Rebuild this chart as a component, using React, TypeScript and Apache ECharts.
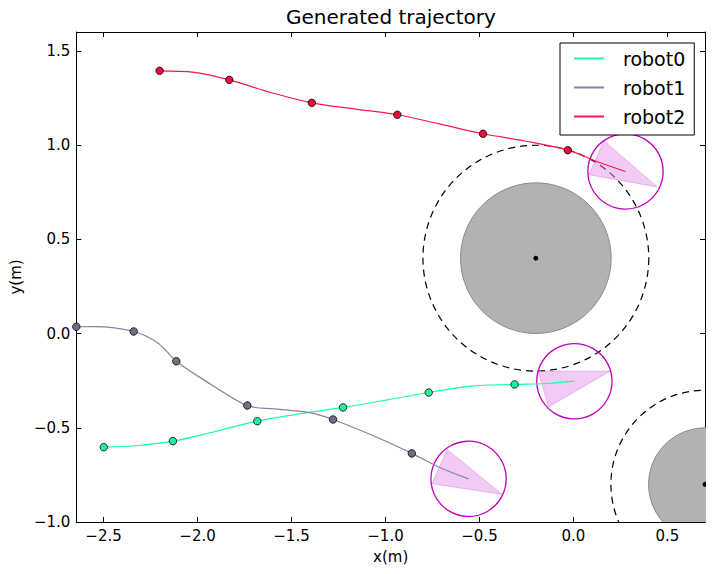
import React, { useEffect, useRef } from "react";
import * as echarts from "echarts";

// ---------- data ----------
const seriesNames = ["robot0", "robot1", "robot2"];
const lineColors = ["#19ff9e", "#8282a3", "#ff1450"];
const markerColors = ["#20f0a0", "#707085", "#e8103c"];

const robot0Path = [
  [-2.499, -0.603], [-2.317, -0.594], [-2.131, -0.571], [-1.91, -0.521], [-1.682, -0.465],
  [-1.415, -0.42], [-1.226, -0.392], [-0.99, -0.352], [-0.77, -0.313], [-0.549, -0.279],
  [-0.313, -0.27], [-0.142, -0.265], [0.005, -0.253],
];
const robot1Path = [
  [-2.645, 0.036], [-2.547, 0.037], [-2.34, 0.011], [-2.211, -0.05], [-2.113, -0.147],
  [-1.928, -0.27], [-1.735, -0.382], [-1.592, -0.4], [-1.397, -0.421], [-1.279, -0.456],
  [-1.061, -0.544], [-0.86, -0.636], [-0.708, -0.712], [-0.558, -0.771],
];
const robot2Path = [
  [-2.202, 1.394], [-2.017, 1.386], [-1.831, 1.346], [-1.61, 1.279], [-1.392, 1.224],
  [-1.168, 1.192], [-0.937, 1.161], [-0.708, 1.111], [-0.481, 1.06], [-0.266, 1.023],
  [-0.03, 0.973], [0.124, 0.913], [0.277, 0.86],
];

const robot0Markers = [
  [-2.499, -0.603], [-2.131, -0.571], [-1.682, -0.465], [-1.226, -0.392], [-0.77, -0.313], [-0.313, -0.27],
];
const robot1Markers = [
  [-2.645, 0.036], [-2.34, 0.011], [-2.113, -0.147], [-1.735, -0.382], [-1.279, -0.456], [-0.86, -0.636],
];
const robot2Markers = [
  [-2.202, 1.394], [-1.831, 1.346], [-1.392, 1.224], [-0.937, 1.161], [-0.481, 1.06], [-0.03, 0.973],
];

const obstacleCenters = [[-0.2, 0.4], [0.7, -0.8]];
const obstacleRadii = [0.4, 0.3];
const safetyRadii = [0.6, 0.5];

const robotPositions = [[0.005, -0.253], [-0.558, -0.771], [0.277, 0.86]];
const robotRadius = 0.2;
const robotCones = [
  [[-0.186, -0.2], [0.194, -0.2], [-0.133, -0.39]],
  [[-0.672, -0.615], [-0.752, -0.797], [-0.38, -0.853]],
  [[0.162, 1.023], [0.083, 0.843], [0.445, 0.778]],
];

const xTicks = [-2.5, -2.0, -1.5, -1.0, -0.5, 0.0, 0.5];
const yTicks = [-1.0, -0.5, 0.0, 0.5, 1.0, 1.5];
const xMin = -2.645;
const xMax = 0.7;
const yMin = -1.0;
const yMax = 1.6;

const fmt = (v: number) => (v < 0 ? "\u2212" + Math.abs(v).toFixed(1) : v.toFixed(1));

function circleSeries(items: number[][], style: any, z: number) {
  return {
    type: "custom",
    coordinateSystem: "cartesian2d",
    xAxisIndex: 0,
    yAxisIndex: 0,
    clip: true,
    silent: true,
    z,
    encode: { x: 0, y: 1 },
    data: items,
    renderItem: (params: any, api: any) => {
      const c = api.coord([api.value(0), api.value(1)]);
      const s = api.size([api.value(2), api.value(2)]);
      return {
        type: "circle",
        shape: { cx: c[0], cy: c[1], r: (s[0] + s[1]) / 2 },
        style,
      };
    },
  };
}

export default function App() {
  const ref = useRef<HTMLDivElement>(null);
  useEffect(() => {
    if (!ref.current) return;
    const chart = echarts.init(ref.current, null, { renderer: "svg" });
    const paths = [robot0Path, robot1Path, robot2Path];
    const markers = [robot0Markers, robot1Markers, robot2Markers];

    const axisCommon = {
      type: "value",
      splitLine: { show: false },
      axisLine: { show: true, onZero: false, lineStyle: { color: "#000", width: 1 } },
    };

    const obstacleItems = obstacleCenters.map((c, i) => [c[0], c[1], obstacleRadii[i]]);
    const safetyItems = obstacleCenters.map((c, i) => [c[0], c[1], safetyRadii[i]]);
    const centerItems = obstacleCenters.map((c) => [c[0], c[1], 0.013]);
    const robotItems = robotPositions.map((p) => [p[0], p[1], robotRadius]);
    const coneItems = robotCones.map((t) => [t[0][0], t[0][1], t[1][0], t[1][1], t[2][0], t[2][1]]);

    const option: any = {
      animation: false,
      textStyle: { fontFamily: "DejaVu Sans" },
      title: {
        text: "Generated trajectory",
        left: 286,
        top: 7,
        padding: 0,
        textStyle: { fontSize: 20, fontWeight: "normal", color: "#000", fontFamily: "DejaVu Sans" },
      },
      legend: {
        orient: "vertical",
        left: 560,
        top: 43,
        padding: [6, 9, 9, 14],
        itemGap: 10,
        itemWidth: 30,
        itemHeight: 2,
        icon: "rect",
        borderColor: "#000",
        borderWidth: 1,
        borderRadius: 0,
        backgroundColor: "#fff",
        data: seriesNames,
        textStyle: { fontSize: 19, color: "#000", padding: [0, 0, 0, 14], fontFamily: "DejaVu Sans" },
        z: 10,
      },
      grid: { left: 75, top: 32, width: 630, height: 490, show: false },
      xAxis: [
        {
          ...axisCommon,
          position: "bottom",
          min: xMin,
          max: xMax,
          name: "x(m)",
          nameLocation: "middle",
          nameGap: 27,
          nameTextStyle: { fontSize: 15, color: "#000" },
          axisTick: { show: true, inside: true, length: 5, customValues: xTicks, lineStyle: { color: "#000" } },
          axisLabel: { show: true, customValues: xTicks, formatter: fmt, margin: 6, fontSize: 15, color: "#000" },
        },
        {
          ...axisCommon,
          position: "top",
          min: xMin,
          max: xMax,
          axisTick: { show: true, inside: true, length: 5, customValues: xTicks, lineStyle: { color: "#000" } },
          axisLabel: { show: false },
        },
      ],
      yAxis: [
        {
          ...axisCommon,
          position: "left",
          min: yMin,
          max: yMax,
          name: "y(m)",
          nameLocation: "middle",
          nameGap: 51,
          nameRotate: 90,
          nameTextStyle: { fontSize: 15, color: "#000" },
          axisTick: { show: true, inside: true, length: 5, customValues: yTicks, lineStyle: { color: "#000" } },
          axisLabel: { show: true, customValues: yTicks, formatter: fmt, margin: 6, fontSize: 15, color: "#000" },
        },
        {
          ...axisCommon,
          position: "right",
          min: yMin,
          max: yMax,
          axisTick: { show: true, inside: true, length: 5, customValues: yTicks, lineStyle: { color: "#000" } },
          axisLabel: { show: false },
        },
      ],
      series: [
        circleSeries(obstacleItems, { fill: "#b2b2b2", stroke: "#8a8a8a", lineWidth: 1 }, 1),
        circleSeries(safetyItems, { fill: "none", stroke: "#000", lineWidth: 1.2, lineDash: [7, 5] }, 1),
        circleSeries(centerItems, { fill: "#000", stroke: "none" }, 1),
        {
          type: "custom",
          coordinateSystem: "cartesian2d",
          xAxisIndex: 0,
          yAxisIndex: 0,
          clip: true,
          silent: true,
          z: 2,
          encode: { x: [0, 2, 4], y: [1, 3, 5] },
          data: coneItems,
          renderItem: (params: any, api: any) => {
            const pts = [0, 1, 2].map((k) => api.coord([api.value(2 * k), api.value(2 * k + 1)]));
            return {
              type: "polygon",
              shape: { points: pts },
              style: { fill: "rgba(224,140,230,0.45)", stroke: "rgba(224,140,230,0.6)", lineWidth: 1 },
            };
          },
        },
        circleSeries(robotItems, { fill: "none", stroke: "#bf00bf", lineWidth: 1.3 }, 3),
        ...paths.map((p, i) => ({
          type: "line",
          name: seriesNames[i],
          xAxisIndex: 0,
          yAxisIndex: 0,
          data: p,
          smooth: 0.35,
          showSymbol: false,
          symbol: "none",
          color: lineColors[i],
          lineStyle: { color: lineColors[i], width: 1.2 },
          itemStyle: { color: lineColors[i] },
          z: 4,
        })),
        ...markers.map((m, i) => ({
          type: "scatter",
          name: seriesNames[i] + " markers",
          xAxisIndex: 0,
          yAxisIndex: 0,
          data: m,
          symbol: "circle",
          symbolSize: 7.5,
          itemStyle: { color: markerColors[i], borderColor: "#000", borderWidth: 0.8, opacity: 1 },
          z: 5,
        })),
      ],
    };
    chart.setOption(option);
    return () => chart.dispose();
  }, []);
  return (
    <div
      ref={ref}
      style={{ position: "absolute", left: 0, top: 0, width: 714, height: 574, background: "#fff" }}
    />
  );
}
